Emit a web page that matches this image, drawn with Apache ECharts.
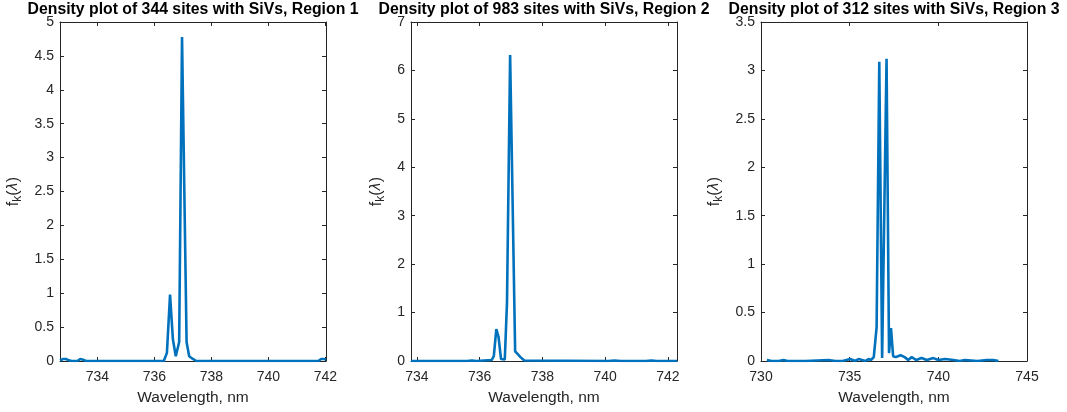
<!DOCTYPE html>
<html>
<head>
<meta charset="utf-8">
<script src="https://cdn.jsdelivr.net/npm/echarts@6/dist/echarts.min.js"></script>
<style>
  html, body { margin: 0; padding: 0; background: #fff; }
  #chart { width: 1067px; height: 412px; }
</style>
</head>
<body>
<div id="chart"></div>
<script>
// ---- data ----
const titles = [
  'Density plot of 344 sites with SiVs, Region 1',
  'Density plot of 983 sites with SiVs, Region 2',
  'Density plot of 312 sites with SiVs, Region 3'
];

const region1Wavelength = [732.69, 732.8, 732.9, 733.0, 733.1, 733.3, 733.4, 733.5, 733.6, 736.33, 736.44, 736.55, 736.65, 736.75, 736.87, 736.97, 737.13, 737.22, 737.35, 737.47, 741.75, 741.85, 741.95, 742.02];
const region1Density    = [0.01, 0.03, 0.03, 0.01, 0.0, 0.0, 0.03, 0.02, 0.0, 0.0, 0.12, 0.98, 0.32, 0.07, 0.28, 4.78, 0.28, 0.07, 0.03, 0.0, 0.0, 0.03, 0.03, 0.02];

const region2Wavelength = [733.81, 735.6, 735.75, 735.9, 736.38, 736.45, 736.53, 736.6, 736.68, 736.8, 736.87, 736.97, 737.13, 737.2, 737.3, 737.42, 740.1, 740.3, 740.5, 741.3, 741.47, 741.65, 742.29];
const region2Density    = [0.0, 0.0, 0.01, 0.0, 0.02, 0.1, 0.66, 0.5, 0.04, 0.03, 1.2, 6.32, 0.2, 0.15, 0.08, 0.01, 0.0, 0.01, 0.0, 0.0, 0.01, 0.0, 0.0];

const region3Wavelength = [730.33, 730.6, 731.0, 731.27, 731.5, 732.5, 733.8, 734.2, 734.6, 735.03, 735.3, 735.5, 735.7, 735.9, 736.06, 736.2, 736.36, 736.52, 736.67, 736.83, 737.08, 737.22, 737.33, 737.45, 737.6, 737.7, 737.87, 738.1, 738.3, 738.5, 738.75, 739.05, 739.35, 739.72, 740.0, 740.38, 740.85, 741.2, 741.5, 742.2, 742.73, 743.1, 743.39];
const region3Density    = [0.01, 0.0, 0.0, 0.01, 0.0, 0.0, 0.01, 0.0, 0.0, 0.02, 0.0, 0.02, 0.01, 0.0, 0.02, 0.01, 0.04, 0.35, 3.09, 0.03, 3.12, 0.08, 0.34, 0.05, 0.04, 0.03, 0.06, 0.04, 0.01, 0.04, 0.01, 0.03, 0.01, 0.03, 0.01, 0.02, 0.01, 0.0, 0.01, 0.0, 0.01, 0.01, 0.0];

const xTicks = [
  [734, 736, 738, 740, 742],
  [734, 736, 738, 740, 742],
  [730, 735, 740, 745]
];
const xRanges = [[732.69, 742.02], [733.81, 742.29], [730, 745]];
const yRanges = [[0, 5], [0, 7], [0, 3.5]];
const yStep = [0.5, 1, 0.5];

const wavelengths = [region1Wavelength, region2Wavelength, region3Wavelength];
const densities = [region1Density, region2Density, region3Density];

// ---- layout ----
const FONT = 'Liberation Sans';
const AX = '#262626';
const gridLefts = [60, 411, 761];
const gridW = 266, gridTop = 22, gridH = 339;
const yNameGap = [36, 24, 36];

let chart = echarts.init(document.getElementById('chart'), null, { renderer: 'canvas' });

let grid = [], xAxis = [], yAxis = [], series = [], title = [];

gridLefts.forEach((left, i) => {
  grid.push({ left: left, top: gridTop, width: gridW, height: gridH, containLabel: false });

  title.push({
    text: titles[i],
    left: left + gridW / 2,
    top: 2,
    padding: 0,
    textAlign: 'center',
    textStyle: { fontFamily: FONT, fontWeight: 'bold', fontSize: 15.8, color: '#000' }
  });

  let axisLine = { show: true, onZero: false, lineStyle: { color: AX, width: 1 } };
  let tick = { show: true, inside: true, length: 4, lineStyle: { color: AX, width: 1 } };

  // bottom + top x axes
  xAxis.push({
    type: 'value', gridIndex: i, position: 'bottom',
    min: xRanges[i][0], max: xRanges[i][1],
    axisLine: axisLine,
    axisTick: Object.assign({ customValues: xTicks[i] }, tick),
    axisLabel: { customValues: xTicks[i], margin: 9, fontFamily: FONT, fontSize: 14, color: AX },
    splitLine: { show: false },
    name: 'Wavelength, nm', nameLocation: 'middle', nameGap: 29,
    nameTextStyle: { fontFamily: FONT, fontSize: 15.5, color: AX, verticalAlign: 'top' }
  });
  xAxis.push({
    type: 'value', gridIndex: i, position: 'top',
    min: xRanges[i][0], max: xRanges[i][1],
    axisLine: axisLine,
    axisTick: Object.assign({ customValues: xTicks[i] }, tick),
    axisLabel: { show: false },
    splitLine: { show: false }
  });

  // left + right y axes
  yAxis.push({
    type: 'value', gridIndex: i, position: 'left',
    min: yRanges[i][0], max: yRanges[i][1], interval: yStep[i],
    axisLine: axisLine, axisTick: tick,
    axisLabel: { margin: 6, fontFamily: FONT, fontSize: 14, color: AX },
    splitLine: { show: false },
    name: '{t|f}{s|k}{t|(}{l|λ}{t|)}', nameLocation: 'middle', nameRotate: 90, nameGap: yNameGap[i],
    nameTextStyle: {
      color: AX,
      rich: {
        t: { fontFamily: FONT, fontSize: 16, lineHeight: 18, verticalAlign: 'top', color: AX },
        l: { fontFamily: 'DejaVu Sans', fontStyle: 'italic', fontSize: 14, lineHeight: 18, verticalAlign: 'top', color: AX },
        s: { fontFamily: FONT, fontSize: 12, lineHeight: 14, padding: [8, 0, 0, 0], verticalAlign: 'bottom', color: AX }
      }
    }
  });
  yAxis.push({
    type: 'value', gridIndex: i, position: 'right',
    min: yRanges[i][0], max: yRanges[i][1], interval: yStep[i],
    axisLine: axisLine, axisTick: tick,
    axisLabel: { show: false },
    splitLine: { show: false }
  });

  series.push({
    type: 'line',
    xAxisIndex: i * 2, yAxisIndex: i * 2,
    data: wavelengths[i].map((w, k) => [w, densities[i][k]]),
    showSymbol: false,
    clip: true,
    lineStyle: { color: '#0072BD', width: 2.6 },
    itemStyle: { color: '#0072BD' }
  });
});

chart.setOption({
  animation: false,
  backgroundColor: '#fff',
  title: title,
  grid: grid,
  xAxis: xAxis,
  yAxis: yAxis,
  series: series
});
</script>
</body>
</html>
